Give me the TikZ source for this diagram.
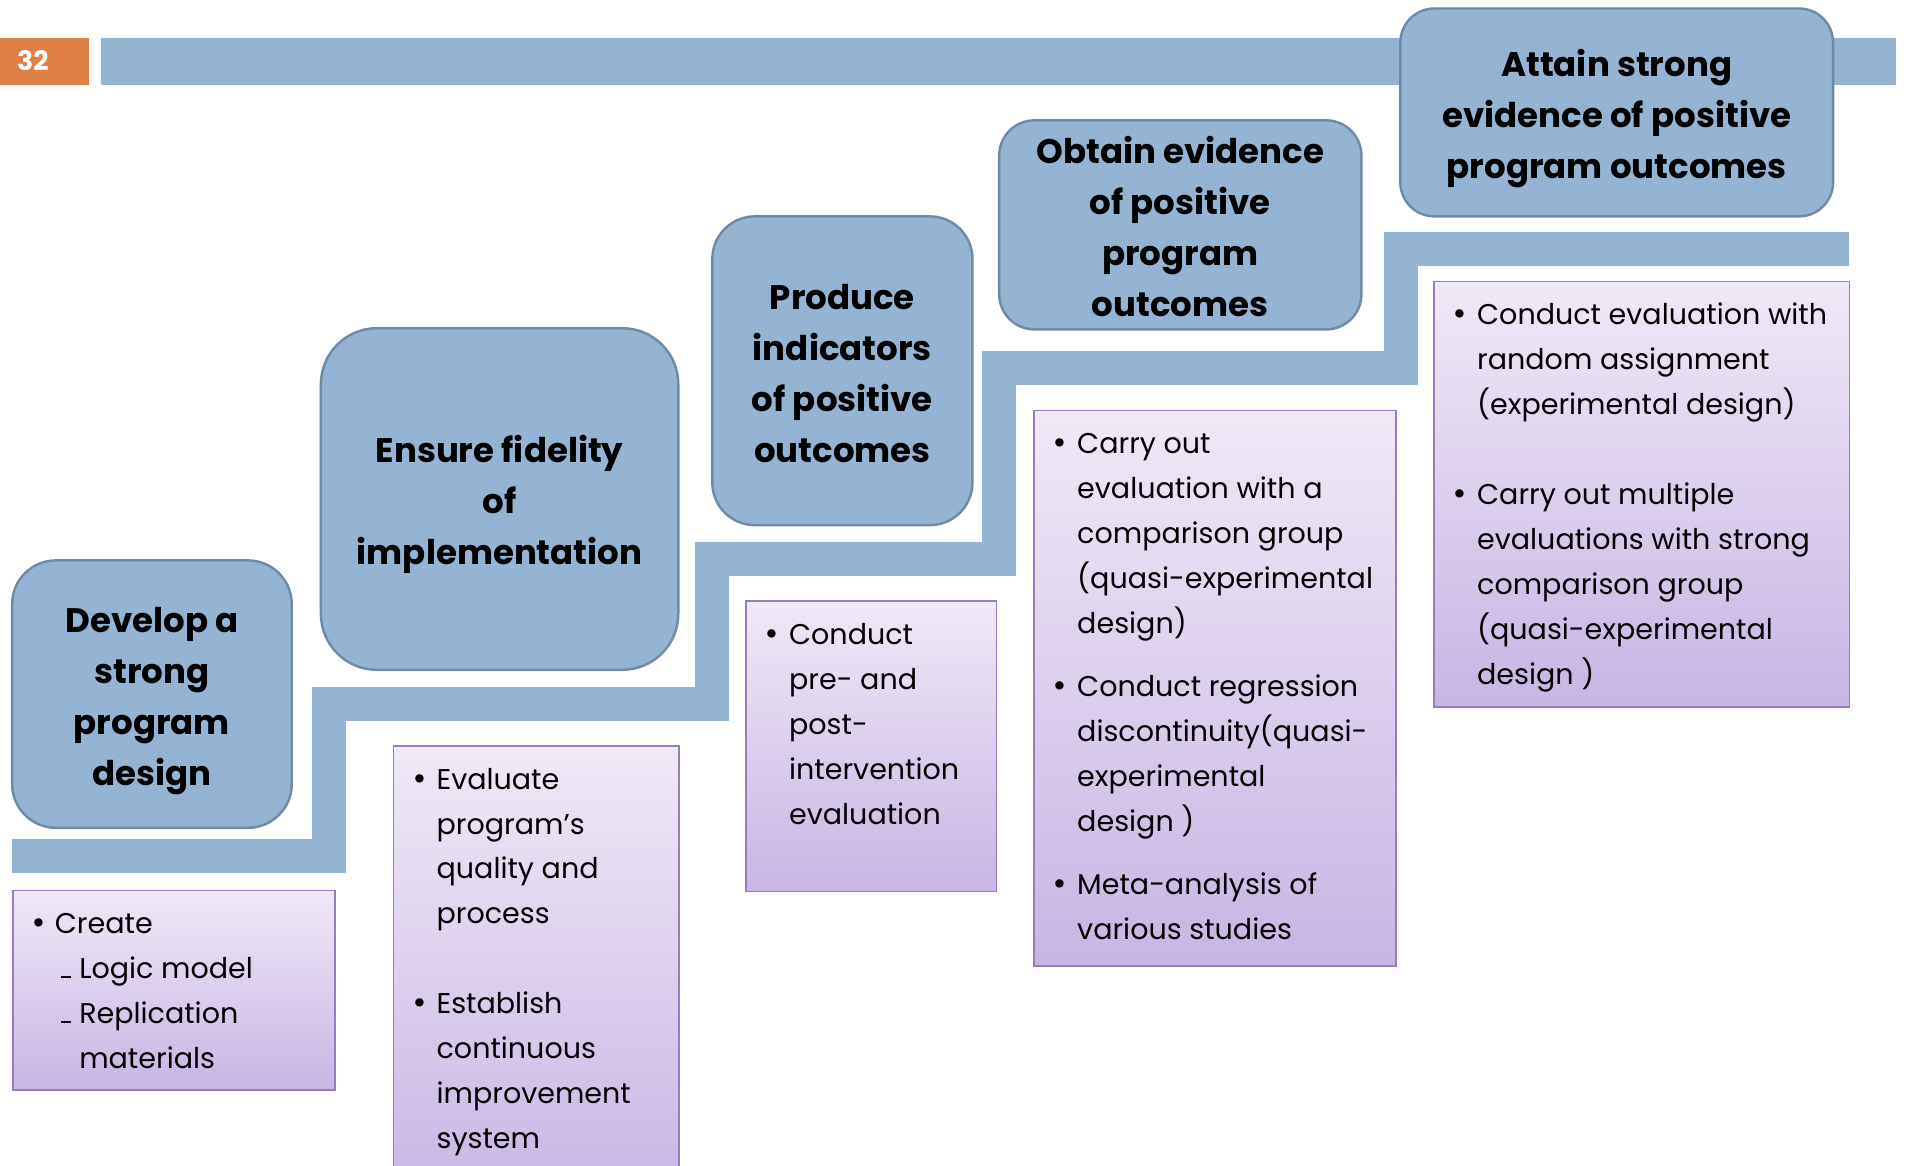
\documentclass[tikz,border=0pt]{standalone}
\usepackage{fontspec}
\setmainfont{Poppins}
\newfontfamily\symfont{DejaVu Sans}

\definecolor{stepblue}{RGB}{149,179,210}
\definecolor{stepedge}{RGB}{110,139,166}
\definecolor{listtop}{RGB}{240,233,247}
\definecolor{listbot}{RGB}{200,181,228}
\definecolor{listedge}{RGB}{152,124,188}
\definecolor{pageorange}{RGB}{223,128,70}

\newcommand{\blt}{\makebox[16pt][l]{\hspace*{-5pt}\symfont\textbullet}}
\newcommand{\cnt}{\hspace*{16pt}}
\newcommand{\dsh}{\makebox[15pt][l]{\rule[0.5pt]{8pt}{1.8pt}}}
\newcommand{\tstrut}{\rule[-9.6pt]{0pt}{43.6pt}}
\newcommand{\bstrut}{\rule[-9.6pt]{0pt}{10pt}}

\begin{document}
\begin{tikzpicture}[x=1pt, y=-1pt,
  goal/.style={draw=stepedge, line width=2pt, fill=stepblue, align=center, inner sep=0pt, font=\fontsize{28}{42}\selectfont\bfseries},
  tasks/.style={draw=listedge, line width=1.2pt, top color=listtop, bottom color=listbot, anchor=north west, inner sep=0pt},
  tasktext/.style={anchor=north west, align=left, inner sep=0pt, font=\fontsize{23.5}{37}\selectfont}]
\path[use as bounding box] (0,0) rectangle (1568,959);
\clip (0,0) rectangle (1568,959);

\node[fill=pageorange, anchor=north west, minimum width=73pt, minimum height=39pt, inner sep=0pt] (pagebox) at (0,31) {};
\node[text=white, font=\fontsize{22}{24}\selectfont\bfseries] (pagenum) at (27,50) {32};
\fill[stepblue] (83,31) rectangle (1560,70);

\draw[stepblue, line width=28pt] (10,704) -- (271,704) -- (271,579) -- (586,579) -- (586,460) -- (822,460) -- (822,303) -- (1152.5,303) -- (1152.5,205) -- (1521,205);

\node[tasks, minimum width=265pt, minimum height=164pt] (createbox) at (10,732) {};
\node[tasktext] (createtext) at ([shift={(20,10)}]createbox.north west) {\strut\makebox[15pt][l]{\hspace*{-5pt}\symfont\textbullet}Create\\ \hspace*{20pt}\dsh Logic model\\ \hspace*{20pt}\dsh Replication\\ \hspace*{35pt}materials};

\node[tasks, minimum width=235pt, minimum height=380pt] (fidelitybox) at (323,613) {};
\node[tasktext] (fidelitytext) at ([shift={(20,10)}]fidelitybox.north west) {\strut\blt Evaluate\\ \cnt program’s\\ \cnt quality and\\ \cnt process\\[37pt] \blt Establish\\ \cnt continuous\\ \cnt improvement\\ \cnt system};

\node[tasks, minimum width=206pt, minimum height=239pt] (indicatorbox) at (613,494) {};
\node[tasktext] (indicatortext) at ([shift={(20,10)}]indicatorbox.north west) {\strut\blt Conduct\\ \cnt pre- and\\ \cnt post-\\ \cnt intervention\\ \cnt evaluation};

\node[tasks, minimum width=298pt, minimum height=457pt] (evidencebox) at (850,337) {};
\node[tasktext] (evidencetext) at ([shift={(20,10)}]evidencebox.north west) {\strut\blt Carry out\\ \cnt evaluation with a\\ \cnt comparison group\\ \cnt (quasi-experimental\\ \cnt design)\\[15pt] \blt Conduct regression\\ \cnt discontinuity(quasi-\\ \cnt experimental\\ \cnt design )\\[15pt] \blt Meta-analysis of\\ \cnt various studies};

\node[tasks, minimum width=342pt, minimum height=350pt] (strongbox) at (1179,231) {};
\node[tasktext] (strongtext) at ([shift={(20,10)}]strongbox.north west) {\strut\blt Conduct evaluation with\\ \cnt random assignment\\ \cnt (experimental design)\\[37pt] \blt Carry out multiple\\ \cnt evaluations with strong\\ \cnt comparison group\\ \cnt (quasi-experimental\\ \cnt design )};

\node[goal, minimum width=230pt, minimum height=220pt, rounded corners=36pt] (design) at (125,571) {\tstrut Develop a\\strong\\program\\design\bstrut};
\node[goal, minimum width=294pt, minimum height=281pt, rounded corners=46pt] (fidelity) at (411,410.5) {\tstrut Ensure fidelity\\of\\implementation\bstrut};
\node[goal, minimum width=214pt, minimum height=254pt, rounded corners=35pt] (indicators) at (693,305) {\tstrut Produce\\indicators\\of positive\\outcomes\bstrut};
\node[goal, minimum width=298pt, minimum height=172pt, rounded corners=29pt] (evidence) at (971,185) {\tstrut Obtain evidence\\of positive\\program\\outcomes\bstrut};
\node[goal, minimum width=356pt, minimum height=171pt, rounded corners=28pt] (strong) at (1330,92.5) {\tstrut Attain strong\\evidence of positive\\program outcomes\bstrut};
\end{tikzpicture}
\end{document}
